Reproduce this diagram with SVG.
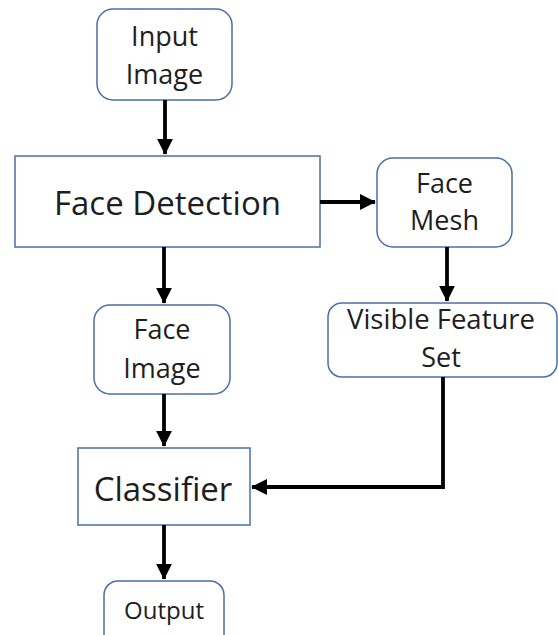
<svg xmlns="http://www.w3.org/2000/svg" width="558" height="635" viewBox="0 0 558 635">
<style>
.box{fill:#fff;stroke:#4a6fa8;stroke-width:1.5}
.t{font-family:"Open Sans","Liberation Sans",sans-serif;fill:#1e1e1e;text-anchor:middle}
.s{font-size:27px}
.b{font-size:33px}
.c{fill:none;stroke:#000;stroke-width:3.8}
</style>
<defs>
<marker id="ah" viewBox="0 0 10 10" refX="9.5" refY="5" markerWidth="4.2" markerHeight="4.2" orient="auto" markerUnits="strokeWidth">
<path d="M0,0 L10,5 L0,10 Z" fill="#000"/>
</marker>
</defs>
<rect width="558" height="635" fill="#fff"/>
<g id="input-image">
<rect class="box" x="97" y="9" width="135" height="91" rx="16"/>
<text class="t s" x="164.5" y="46">Input</text>
<text class="t s" x="164.5" y="84">Image</text>
</g>
<g id="face-detection">
<rect class="box" x="15" y="156" width="305" height="91"/>
<text class="t b" x="167.5" y="215">Face Detection</text>
</g>
<g id="face-mesh">
<rect class="box" x="377" y="158" width="135" height="89" rx="16"/>
<text class="t s" x="444.5" y="193">Face</text>
<text class="t s" x="444.5" y="230">Mesh</text>
</g>
<g id="visible-feature-set">
<rect class="box" x="328" y="303" width="229" height="74" rx="14"/>
<text class="t s" x="441" y="329" textLength="188" lengthAdjust="spacingAndGlyphs">Visible Feature</text>
<text class="t s" x="441" y="367">Set</text>
</g>
<g id="face-image">
<rect class="box" x="94" y="305" width="136" height="89" rx="16"/>
<text class="t s" x="162" y="339">Face</text>
<text class="t s" x="162" y="378">Image</text>
</g>
<g id="classifier">
<rect class="box" x="78" y="448" width="172" height="77"/>
<text class="t b" x="163" y="501">Classifier</text>
</g>
<g id="output">
<rect class="box" x="104" y="581" width="120" height="70" rx="14"/>
<text class="t" x="164" y="619" font-size="24">Output</text>
</g>
<g id="connectors">
<path class="c" d="M165,100 L165,154" marker-end="url(#ah)"/>
<path class="c" d="M320,202 L375,202" marker-end="url(#ah)"/>
<path class="c" d="M447,247 L447,301" marker-end="url(#ah)"/>
<path class="c" d="M164,247 L164,303" marker-end="url(#ah)"/>
<path class="c" d="M164,394 L164,446" marker-end="url(#ah)"/>
<path class="c" d="M443,377 L443,487 L252,487" marker-end="url(#ah)"/>
<path class="c" d="M164,525 L164,579" marker-end="url(#ah)"/>
</g>
</svg>
